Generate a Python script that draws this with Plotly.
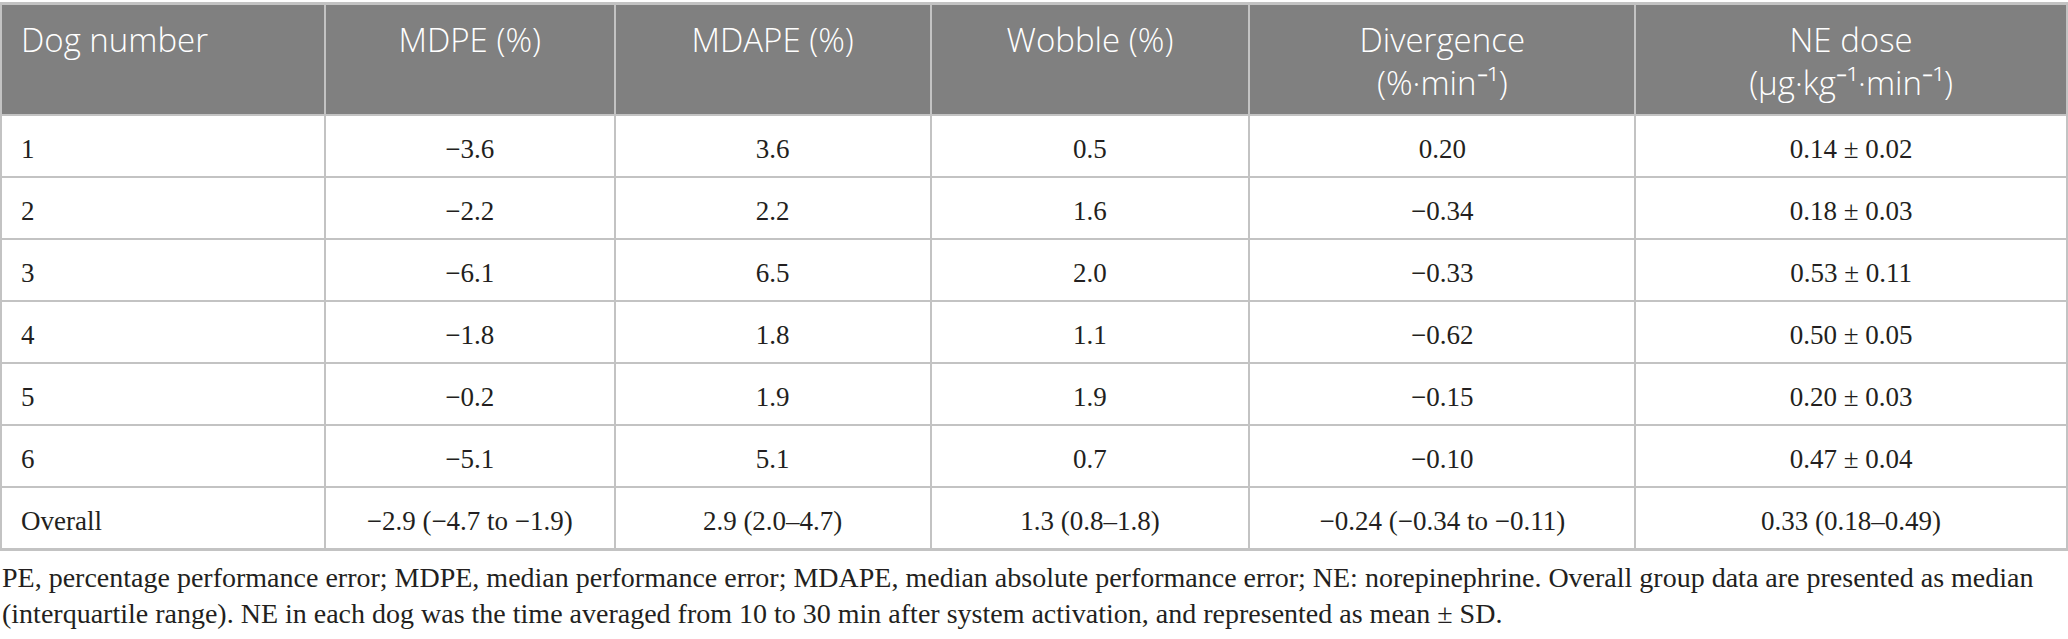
import numpy as np
import plotly.graph_objects as go

# table content
headers = ["Dog number", "MDPE (%)", "MDAPE (%)", "Wobble (%)",
           "Divergence<br>(%·min⁻¹)", "NE dose<br>(μg·kg⁻¹·min⁻¹)"]
dog_number = ["1", "2", "3", "4", "5", "6", "Overall"]
mdpe = ["−3.6", "−2.2", "−6.1", "−1.8", "−0.2", "−5.1", "−2.9 (−4.7 to −1.9)"]
mdape = ["3.6", "2.2", "6.5", "1.8", "1.9", "5.1", "2.9 (2.0–4.7)"]
wobble = ["0.5", "1.6", "2.0", "1.1", "1.9", "0.7", "1.3 (0.8–1.8)"]
divergence = ["0.20", "−0.34", "−0.33", "−0.62", "−0.15", "−0.10", "−0.24 (−0.34 to −0.11)"]
ne_dose = ["0.14 ± 0.02", "0.18 ± 0.03", "0.53 ± 0.11", "0.50 ± 0.05",
           "0.20 ± 0.03", "0.47 ± 0.04", "0.33 (0.18–0.49)"]

footnote = [
    "PE, percentage performance error; MDPE, median performance error; MDAPE, median absolute "
    "performance error; NE: norepinephrine. Overall group data are presented as median",
    "(interquartile range). NE in each dog was the time averaged from 10 to 30 min after "
    "system activation, and represented as mean ± SD.",
]

columns = [dog_number, mdpe, mdape, wobble, divergence, ne_dose]

# layout (pixel units)
W, H = 2068, 639
col_widths = [324, 290, 316, 319, 386, 432]
header_h, row_h, table_top = 111, 62, 4
n_rows = len(dog_number)

x_edges = np.concatenate([[0], np.cumsum(col_widths)])
y_edges = table_top + np.concatenate([[0], header_h + row_h * np.arange(n_rows + 1)])
x_mid = (x_edges[:-1] + x_edges[1:]) / 2
y_mid = (y_edges[:-1] + y_edges[1:]) / 2

line_col = "#c3c3c3"
head_col = "#808080"
body_font = dict(family="Liberation Serif", size=27, color="#231f20")
note_font = dict(family="Liberation Serif", size=28, color="#231f20")
head_font = dict(family="Open Sans", size=33, color="white", weight=300)

fig = go.Figure()

# cell backgrounds, gaps show the grid lines
z = np.zeros((n_rows + 1, len(columns)))
z[0, :] = 1
fig.add_trace(go.Heatmap(
    z=z, x=x_edges, y=y_edges, zmin=0, zmax=1,
    colorscale=[[0, "white"], [1, head_col]],
    xgap=2, ygap=2, showscale=False, hoverinfo="skip",
))

# body text
bx, by, bt, bpos = [], [], [], []
for j, col in enumerate(columns):
    for i, val in enumerate(col):
        bx.append(x_edges[j] + 20 if j == 0 else x_mid[j])
        by.append(y_mid[i + 1] + 5)
        bt.append(val)
        bpos.append("middle right" if j == 0 else "middle center")
fig.add_trace(go.Scatter(
    x=bx, y=by, text=bt, mode="text", textposition=bpos,
    textfont=body_font, hoverinfo="skip", showlegend=False,
))

# header text hangs from the top of the header row
hx = [x_edges[0] + 20] + list(x_mid[1:])
hy = [table_top + 23] * len(headers)
hpos = ["bottom right"] + ["bottom center"] * (len(headers) - 1)
fig.add_trace(go.Scatter(
    x=hx, y=hy, text=headers, mode="text", textposition=hpos,
    textfont=head_font, hoverinfo="skip", showlegend=False,
))

fig.add_annotation(
    text="<br>".join(footnote), xref="paper", yref="paper", x=0, y=1 - 560 / H,
    xanchor="left", yanchor="top", showarrow=False, align="left",
    font=note_font,
)

fig.update_layout(
    width=W, height=H,
    margin=dict(l=0, r=0, t=0, b=0),
    paper_bgcolor="white",
    plot_bgcolor=line_col,
    xaxis=dict(range=[-1, W], visible=False, fixedrange=True),
    yaxis=dict(range=[y_edges[-1] + 2, 2], domain=[1 - (y_edges[-1] + 2) / H, 1 - 2 / H],
               visible=False, fixedrange=True),
)

# drop the page's default body margin so the figure sits at the window corner
fig.write_html("out.html", config={"displayModeBar": False},
               post_script="document.body.style.margin='0';")
